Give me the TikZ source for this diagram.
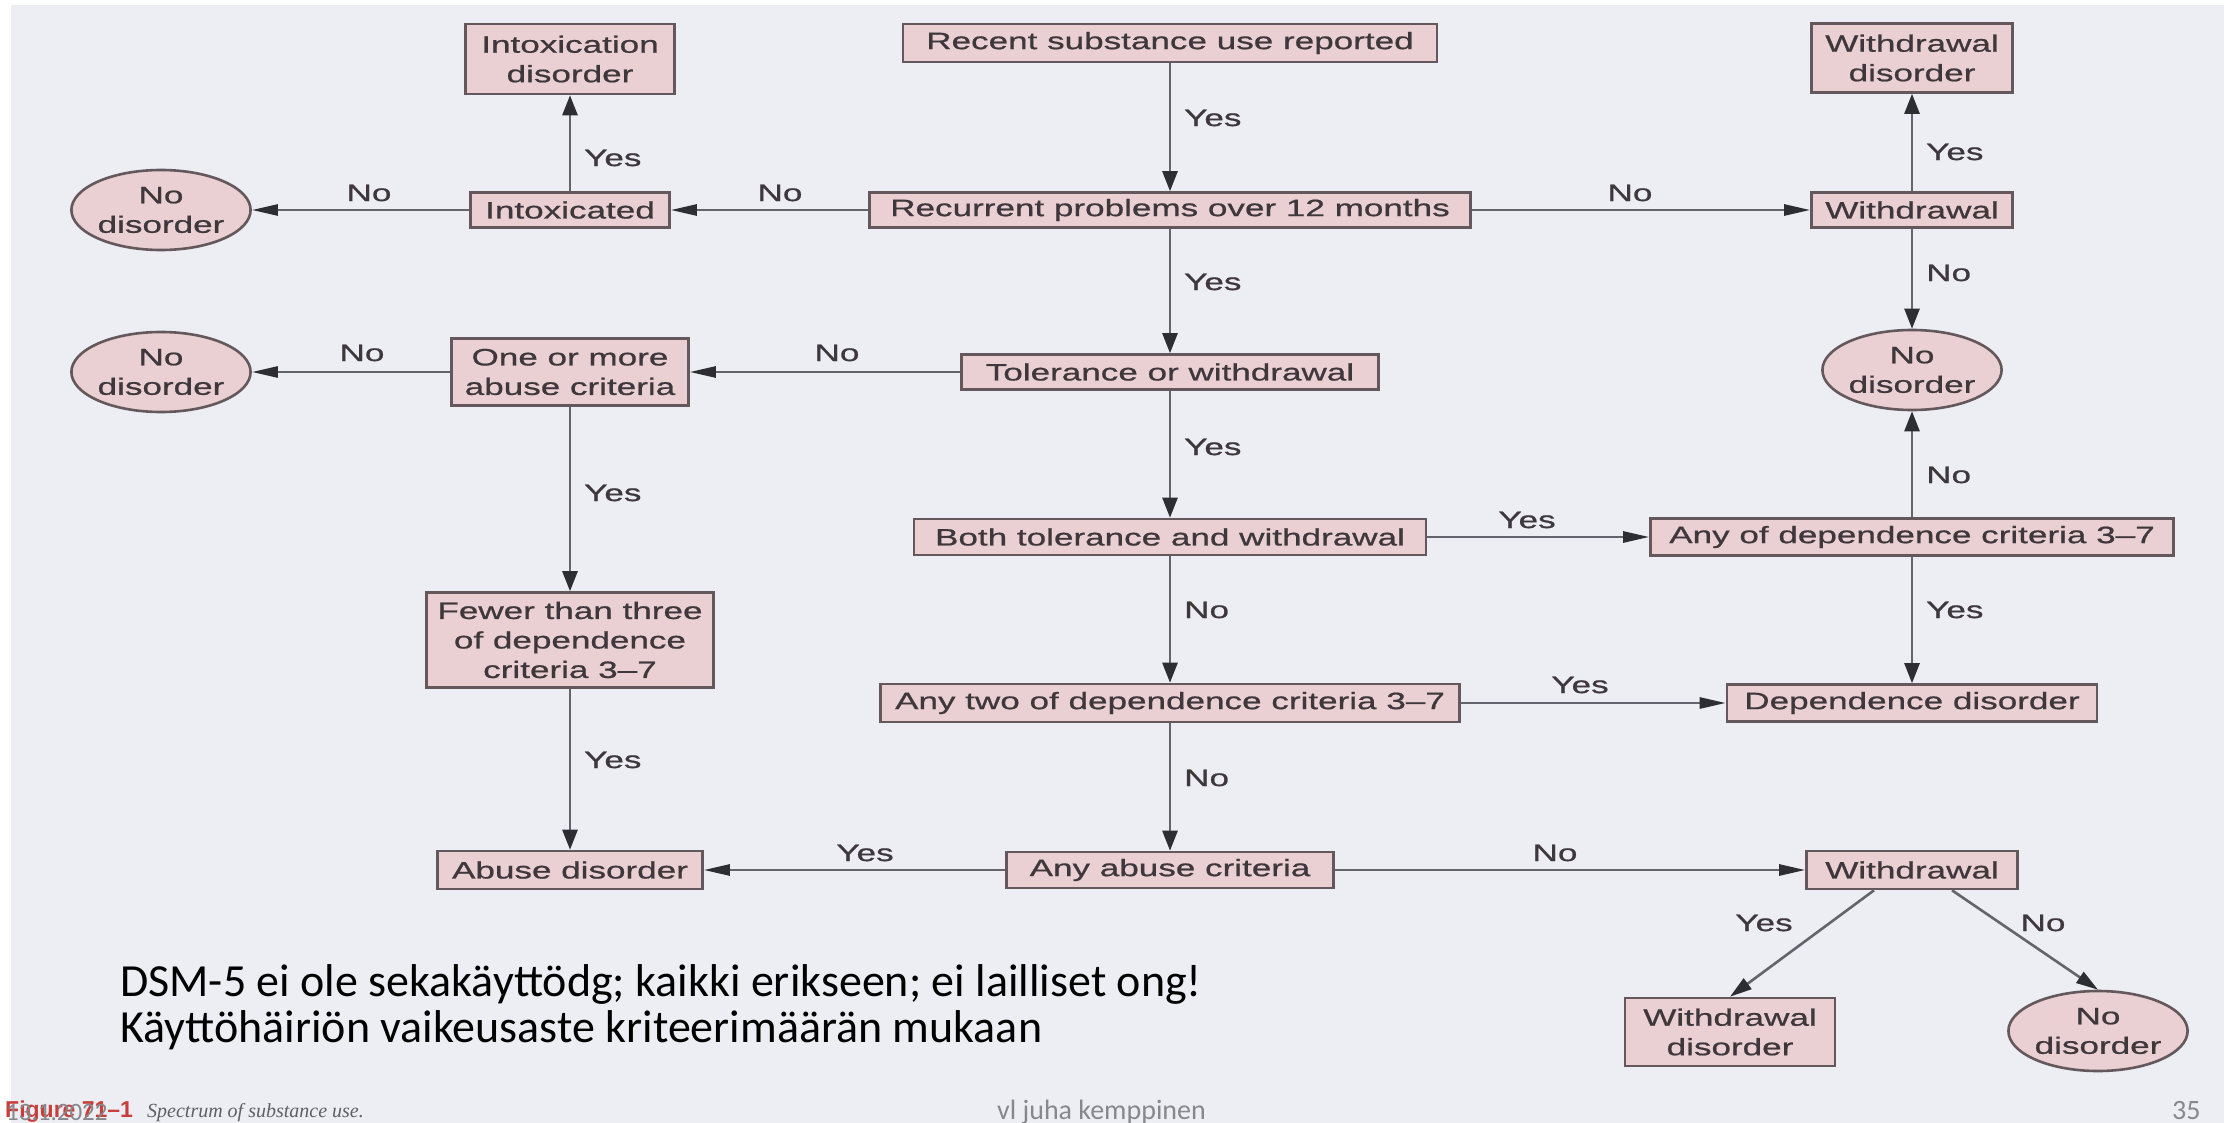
\documentclass[tikz,border=0pt]{standalone}
\usepackage{fontspec}
\usetikzlibrary{arrows.meta,shapes.geometric}
% flowchart lettering is a wide sans; slide notes use a Calibri-width family
\newfontfamily\boxfont[FakeStretch=1.48,FakeBold=0.8]{Liberation Sans}
\newfontfamily\capsans{Liberation Sans}
\newfontfamily\capserif{Liberation Serif}
\newfontfamily\slidefont{Carlito}
\definecolor{pagecol}{RGB}{236,238,243}
\definecolor{boxfill}{RGB}{234,208,210}
\definecolor{boxdraw}{RGB}{100,88,92}
\definecolor{txtcol}{RGB}{62,55,60}
\definecolor{linecol}{RGB}{100,100,108}
\definecolor{tipcol}{RGB}{45,45,50}
\definecolor{capred}{RGB}{200,62,58}
\definecolor{capgray}{RGB}{95,95,100}
\definecolor{footgray}{RGB}{135,135,140}
\begin{document}
\begin{tikzpicture}[x=1pt,y=-1pt,
  box/.style={draw=boxdraw, line width=2.6pt, fill=boxfill, inner sep=0pt,
    align=center, text=txtcol, font=\boxfont\fontsize{23.7}{29.5}\selectfont},
  oval/.style={box, ellipse, minimum width=166pt, minimum height=80pt},
  lbl/.style={inner sep=0pt, text=txtcol, font=\boxfont\fontsize{23.7}{26}\selectfont},
  conn/.style={draw=linecol, line width=2.6pt},
  harr/.style={conn, -{Triangle[length=26pt,width=11pt,color=tipcol]}},
  varr/.style={conn, -{Triangle[length=20pt,width=15pt,color=tipcol]}},
  darr/.style={conn, -{Triangle[length=22pt,width=13pt,color=tipcol]}},
  note/.style={anchor=base west, inner sep=0pt, text=black, font=\slidefont\fontsize{46}{46}\selectfont},
  foot/.style={anchor=base west, inner sep=0pt, text=footgray, font=\slidefont\fontsize{28}{28}\selectfont}
]
\useasboundingbox (0,0) rectangle (2224,1123);
\fill[white] (0,0) rectangle (2224,1123);
\fill[pagecol] (11,5) rectangle (2224,1123);

% decision boxes
\node[box, minimum width=534pt, minimum height=38pt] (recent) at (1170,43) {Recent substance use reported};
\node[box, minimum width=209pt, minimum height=70pt] (intoxdis) at (570,59) {Intoxication\\disorder};
\node[box, minimum width=201pt, minimum height=69pt] (wdis1) at (1912,58) {Withdrawal\\disorder};
\node[box, minimum width=199pt, minimum height=35pt] (intox) at (570,210) {Intoxicated};
\node[box, minimum width=601pt, minimum height=35pt] (recurrent) at (1170,210) {Recurrent problems over 12 months};
\node[box, minimum width=201pt, minimum height=35pt] (withdrawal1) at (1912,210) {Withdrawal};
\node[oval] (nodis1) at (161,210) {No\\disorder};
\node[oval] (nodis2) at (161,372) {No\\disorder};
\node[box, minimum width=237pt, minimum height=67pt] (onemore) at (570,372) {One or more\\abuse criteria};
\node[box, minimum width=417pt, minimum height=35pt] (tolerance) at (1170,372) {Tolerance or withdrawal};
\node[oval, minimum width=174pt] (nodis3) at (1912,370) {No\\disorder};
\node[box, minimum width=287pt, minimum height=95pt] (fewer) at (570,640) {Fewer than three\\of dependence\\criteria 3–7};
\node[box, minimum width=512pt, minimum height=36pt] (both) at (1170,537) {Both tolerance and withdrawal};
\node[box, minimum width=523pt, minimum height=37pt] (anydep) at (1912,537) {Any of dependence criteria 3–7};
\node[box, minimum width=579pt, minimum height=38pt] (anytwo) at (1170,703) {Any two of dependence criteria 3–7};
\node[box, minimum width=370pt, minimum height=37pt] (depdis) at (1912,703) {Dependence disorder};
\node[box, minimum width=265pt, minimum height=38pt] (abusedis) at (570,870) {Abuse disorder};
\node[box, minimum width=327pt, minimum height=36pt] (anyabuse) at (1170,870) {Any abuse criteria};
\node[box, minimum width=211pt, minimum height=38pt] (withdrawal2) at (1912,870) {Withdrawal};
\node[box, minimum width=210pt, minimum height=68pt] (wdis2) at (1730,1032) {Withdrawal\\disorder};
\node[oval] (nodis4) at (2098,1031) {No\\disorder};

% connectors
\draw[varr] (recent) -- (recurrent);
\draw[harr] (recurrent) -- (intox);
\draw[varr] (intox) -- (intoxdis);
\draw[harr] (intox) -- (nodis1);
\draw[harr] (recurrent) -- (withdrawal1);
\draw[varr] (withdrawal1) -- (wdis1);
\draw[varr] (withdrawal1) -- (nodis3);
\draw[varr] (recurrent) -- (tolerance);
\draw[harr] (tolerance) -- (onemore);
\draw[harr] (onemore) -- (nodis2);
\draw[varr] (onemore) -- (fewer);
\draw[varr] (tolerance) -- (both);
\draw[harr] (both) -- (anydep);
\draw[varr] (anydep) -- (nodis3);
\draw[varr] (anydep) -- (depdis);
\draw[varr] (both) -- (anytwo);
\draw[harr] (anytwo) -- (depdis);
\draw[varr] (fewer) -- (abusedis);
\draw[varr] (anytwo) -- (anyabuse);
\draw[harr] (anyabuse) -- (abusedis);
\draw[harr] (anyabuse) -- (withdrawal2);
\draw[darr] ([xshift=-38pt]withdrawal2.south) -- (wdis2.north);
\draw[darr] ([xshift=40pt]withdrawal2.south) -- (nodis4.north);

% branch labels beside vertical connectors
\node[lbl, anchor=west] (l1) at (1184,118) {Yes};
\node[lbl, anchor=west] (l2) at (584,158) {Yes};
\node[lbl, anchor=west] (l3) at (1926,152) {Yes};
\node[lbl, anchor=west] (l4) at (1926,273) {No};
\node[lbl, anchor=west] (l5) at (1184,282) {Yes};
\node[lbl, anchor=west] (l6) at (584,493) {Yes};
\node[lbl, anchor=west] (l7) at (1184,447) {Yes};
\node[lbl, anchor=west] (l8) at (1926,475) {No};
\node[lbl, anchor=west] (l9) at (1926,610) {Yes};
\node[lbl, anchor=west] (l10) at (1184,610) {No};
\node[lbl, anchor=west] (l11) at (584,760) {Yes};
\node[lbl, anchor=west] (l12) at (1184,778) {No};
% branch labels above horizontal connectors
\node[lbl] (l13) at (369,193) {No};
\node[lbl] (l14) at (780,193) {No};
\node[lbl] (l15) at (1630,193) {No};
\node[lbl] (l16) at (837,353) {No};
\node[lbl] (l17) at (362,353) {No};
\node[lbl] (l18) at (1527,520) {Yes};
\node[lbl] (l19) at (1580,685) {Yes};
\node[lbl] (l20) at (865,853) {Yes};
\node[lbl] (l21) at (1555,853) {No};
\node[lbl] (l22) at (1764,923) {Yes};
\node[lbl] (l23) at (2043,923) {No};

% slide notes
\node[note] (note1) at (120,996) {DSM-5 ei ole sekakäyttödg; kaikki erikseen; ei lailliset ong!};
\node[note] (note2) at (120,1042) {Käyttöhäiriön vaikeusaste kriteerimäärän mukaan};

% figure caption and slide footer
\node[anchor=base west, inner sep=0pt, text=capred, font=\capsans\bfseries\fontsize{23}{23}\selectfont] (figno) at (5,1117) {Figure 71–1};
\node[anchor=base west, inner sep=0pt, text=capgray, font=\capserif\itshape\fontsize{20}{20}\selectfont] (figcap) at (147,1117) {Spectrum of substance use.};
\node[foot, font=\slidefont\fontsize{25}{25}\selectfont] (date) at (6,1120) {13.1.2022};
\node[foot] (author) at (997,1119) {vl juha kemppinen};
\node[foot] (pageno) at (2172,1119) {35};
\end{tikzpicture}
\end{document}
